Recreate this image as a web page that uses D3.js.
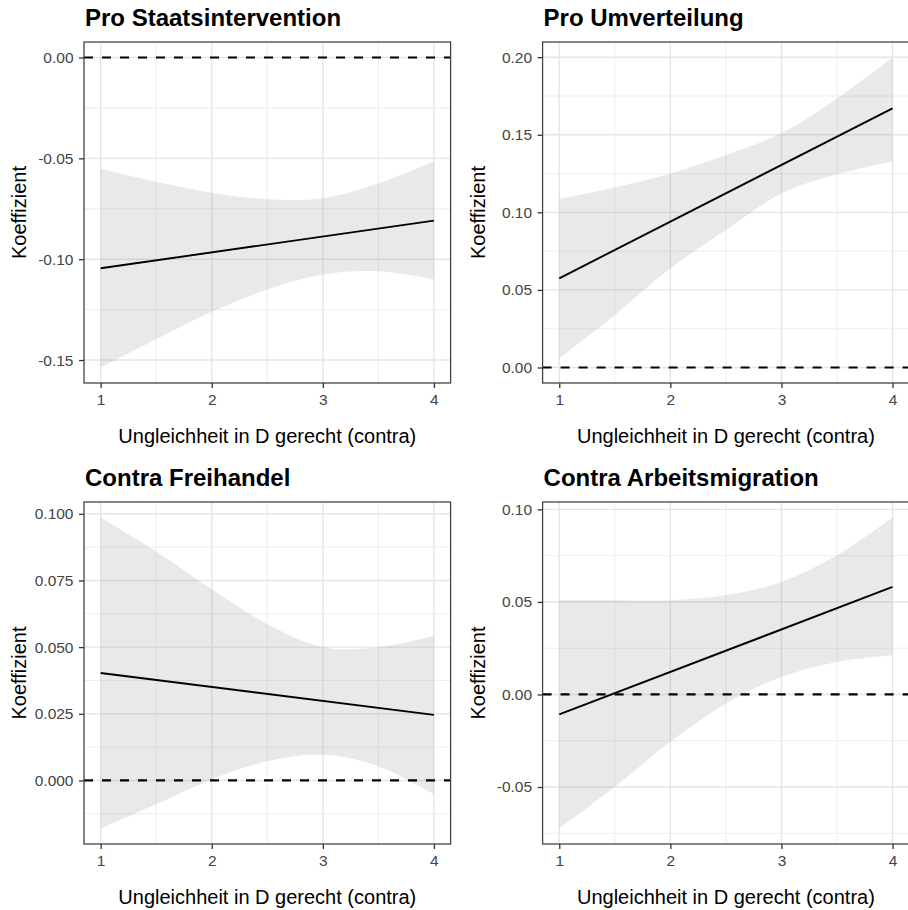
<!DOCTYPE html>
<html>
<head>
<meta charset="utf-8">
<script src="https://cdn.jsdelivr.net/npm/d3@7"></script>
<style>
  body { margin: 0; background: #fff; }
  svg { display: block; font-family: "Liberation Sans", Arial, sans-serif; }
</style>
</head>
<body>
<div id="chart"></div>
<script>
// values
const titles = ["Pro Staatsintervention", "Pro Umverteilung", "Contra Freihandel", "Contra Arbeitsmigration"];
const xLabel = "Ungleichheit in D gerecht (contra)";
const yLabel = "Koeffizient";
const xTicks = [1, 2, 3, 4];
const lineX = [1, 4];
const bandX = [1, 1.5, 2, 2.5, 3, 3.5, 4];

const staatEst = [-0.1045, -0.0809];
const staatUpper = [-0.055, -0.0616, -0.067, -0.0703, -0.0698, -0.0624, -0.0514];
const staatLower = [-0.1537, -0.1397, -0.126, -0.115, -0.1076, -0.106, -0.110];
const staatTicks = [0, -0.05, -0.10, -0.15];

const umvEst = [0.0575, 0.167];
const umvUpper = [0.1086, 0.116, 0.125, 0.137, 0.151, 0.1734, 0.1998];
const umvLower = [0.006, 0.0339, 0.064, 0.0886, 0.1122, 0.1245, 0.133];
const umvTicks = [0, 0.05, 0.10, 0.15, 0.20];

const freiEst = [0.0403, 0.0246];
const freiUpper = [0.0986, 0.0859, 0.0717, 0.0587, 0.0500, 0.0500, 0.0543];
const freiLower = [-0.018, -0.0089, 0.0004, 0.0072, 0.0097, 0.0053, -0.0052];
const freiTicks = [0, 0.025, 0.05, 0.075, 0.10];

const migEst = [-0.0108, 0.0581];
const migUpper = [0.0509, 0.0509, 0.0509, 0.0536, 0.0608, 0.0752, 0.0956];
const migLower = [-0.0724, -0.0499, -0.0256, -0.0049, 0.0095, 0.0176, 0.0212];
const migTicks = [-0.05, 0, 0.05, 0.10];

const W = 908, H = 910;
const svg = d3.select("#chart").append("svg")
  .attr("width", W).attr("height", H)
  .style("overflow", "hidden");

const noMinus = d3.formatLocale({decimal: ".", thousands: ",", grouping: [3], currency: ["", ""], minus: "-"});

const panels = [
  {title: titles[0], est: staatEst, upper: staatUpper, lower: staatLower, ticks: staatTicks, fmt: ".2f", left: 84, top: 42, bottom: 383},
  {title: titles[1], est: umvEst, upper: umvUpper, lower: umvLower, ticks: umvTicks, fmt: ".2f", left: 542.6, top: 42, bottom: 383},
  {title: titles[2], est: freiEst, upper: freiUpper, lower: freiLower, ticks: freiTicks, fmt: ".3f", left: 84, top: 502, bottom: 844},
  {title: titles[3], est: migEst, upper: migUpper, lower: migLower, ticks: migTicks, fmt: ".2f", left: 542.6, top: 502, bottom: 844}
];
const panelW = 366.6;

panels.forEach(function(p, i) {
  const w = panelW, h = p.bottom - p.top;
  const g = svg.append("g").attr("transform", `translate(${p.left}, ${p.top})`);

  // ggplot-style 5% expansion
  const x = d3.scaleLinear().domain([0.85, 4.15]).range([0, w]);
  const ext = d3.extent([0].concat(p.upper, p.lower, p.est));
  const pad = (ext[1] - ext[0]) * 0.05;
  const y = d3.scaleLinear().domain([ext[0] - pad, ext[1] + pad]).range([h, 0]);

  const step = Math.abs(p.ticks[1] - p.ticks[0]);
  const t0 = d3.min(p.ticks), t1 = d3.max(p.ticks);
  const minorY = [];
  for (let v = t0 - step / 2; v <= t1 + step; v += step) {
    if (v > y.domain()[0] && v < y.domain()[1]) minorY.push(v);
  }
  const minorX = [1.5, 2.5, 3.5];

  // grid
  g.selectAll(".minx").data(minorX).join("line")
    .attr("x1", d => x(d)).attr("x2", d => x(d)).attr("y1", 0).attr("y2", h)
    .attr("stroke", "#ebebeb").attr("stroke-width", 0.9);
  g.selectAll(".miny").data(minorY).join("line")
    .attr("x1", 0).attr("x2", w).attr("y1", d => y(d)).attr("y2", d => y(d))
    .attr("stroke", "#ebebeb").attr("stroke-width", 0.9);
  g.selectAll(".majx").data(xTicks).join("line")
    .attr("x1", d => x(d)).attr("x2", d => x(d)).attr("y1", 0).attr("y2", h)
    .attr("stroke", "#e5e5e5").attr("stroke-width", 1.4);
  g.selectAll(".majy").data(p.ticks).join("line")
    .attr("x1", 0).attr("x2", w).attr("y1", d => y(d)).attr("y2", d => y(d))
    .attr("stroke", "#e5e5e5").attr("stroke-width", 1.4);

  // confidence band
  const band = bandX.map((v, k) => ({x: v, lo: p.lower[k], hi: p.upper[k]}));
  g.append("path")
    .datum(band)
    .attr("d", d3.area().x(d => x(d.x)).y0(d => y(d.lo)).y1(d => y(d.hi)).curve(d3.curveCatmullRom))
    .attr("fill", "#999999").attr("fill-opacity", 0.22);

  // zero line
  g.append("line")
    .attr("x1", 0).attr("x2", w).attr("y1", y(0)).attr("y2", y(0))
    .attr("stroke", "#000").attr("stroke-width", 2.2).attr("stroke-dasharray", "9,9");

  // estimate
  g.append("path")
    .datum(lineX.map((v, k) => ({x: v, v: p.est[k]})))
    .attr("d", d3.line().x(d => x(d.x)).y(d => y(d.v)))
    .attr("fill", "none").attr("stroke", "#000").attr("stroke-width", 1.9);

  // border
  g.append("rect").attr("width", w).attr("height", h)
    .attr("fill", "none").attr("stroke", "#444").attr("stroke-width", 1.3);

  // axes
  const ya = g.append("g")
    .call(d3.axisLeft(y).tickValues(p.ticks).tickSize(5).tickPadding(5.5)
      .tickFormat(noMinus.format(p.fmt)));
  const xa = g.append("g").attr("transform", `translate(0, ${h})`)
    .call(d3.axisBottom(x).tickValues(xTicks).tickSize(5).tickPadding(6).tickFormat(d3.format("d")));
  [ya, xa].forEach(function(a) {
    a.select(".domain").remove();
    a.selectAll(".tick line").attr("stroke", "#333").attr("stroke-width", 1.3);
    a.selectAll("text").attr("fill", "#444").style("font-size", "15.5px")
      .style("font-family", "'Liberation Sans', Arial, sans-serif");
  });

  // title
  svg.append("text")
    .attr("x", p.left + 1).attr("y", p.top - 16)
    .style("font-size", "24px").style("font-weight", "bold")
    .attr("fill", "#000")
    .text(p.title);

  // x label
  svg.append("text")
    .attr("x", p.left + w / 2).attr("y", p.bottom + 60)
    .attr("text-anchor", "middle")
    .style("font-size", "20px").attr("fill", "#000")
    .text(xLabel);

  // y label
  svg.append("text")
    .attr("transform", `translate(${p.left - 58}, ${p.top + h / 2}) rotate(-90)`)
    .attr("text-anchor", "middle")
    .style("font-size", "20px").attr("fill", "#000")
    .text(yLabel);
});
</script>
</body>
</html>
